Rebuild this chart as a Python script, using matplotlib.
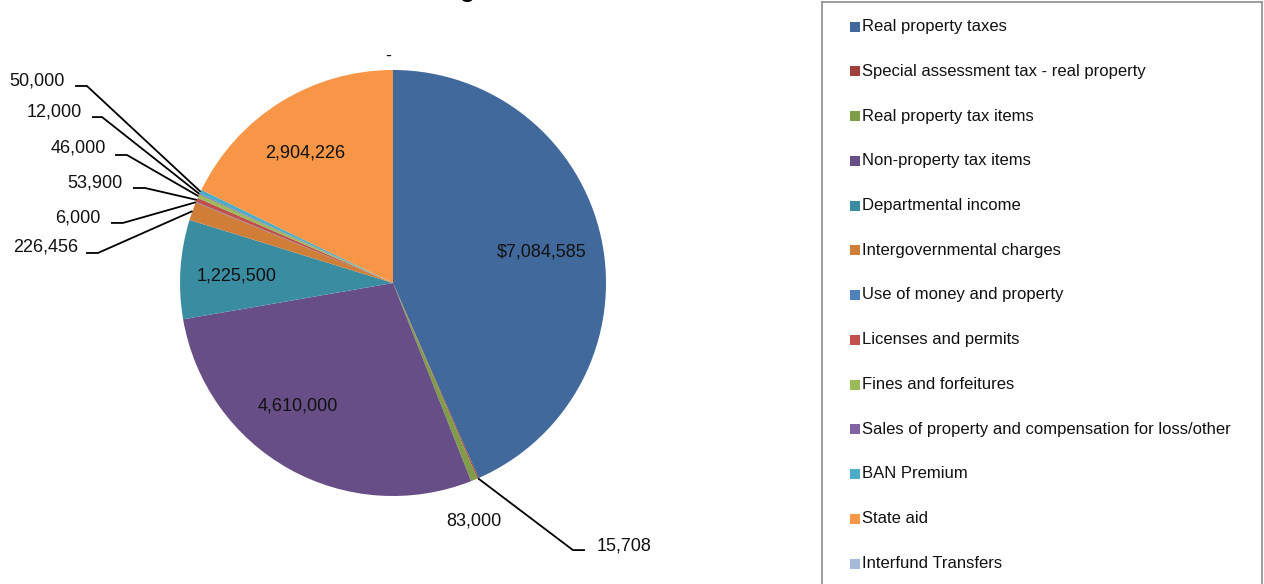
import matplotlib.pyplot as plt
import numpy as np

plt.rcParams['font.family'] = ['Liberation Sans', 'DejaVu Sans']

# Dados
categorias = [
    "Real property taxes",
    "Special assessment tax - real property",
    "Real property tax items",
    "Non-property tax items",
    "Departmental income",
    "Intergovernmental charges",
    "Use of money and property",
    "Licenses and permits",
    "Fines and forfeitures",
    "Sales of property and compensation for loss/other",
    "BAN Premium",
    "State aid",
    "Interfund Transfers",
]
valores = [7084585, 15708, 83000, 4610000, 1225500, 226456, 6000,
           53900, 46000, 12000, 50000, 2904226, 0]
cores = ["#41699C", "#A23F3C", "#7F9C46", "#684E86", "#3A8DA0", "#D07D38",
         "#4F81BD", "#C0504D", "#9BBB59", "#8064A2", "#4BACC6", "#F79646",
         "#A7B9D9"]

# Posicao dos rotulos (unidades do raio)
pos_rotulos = [(0.697, 0.146), (0.958, -1.235), (0.380, -1.117),
               (-0.446, -0.577), (-0.732, 0.033), (-1.479, 0.169),
               (-1.371, 0.305), (-1.268, 0.469), (-1.347, 0.634),
               (-1.460, 0.803), (-1.540, 0.948), (-0.413, 0.610),
               (-0.023, 1.066)]
# Linhas de chamada: indice -> (x ponta, x cotovelo, y)
chamadas = {
    1: (0.901, 0.845, -1.254),
    5: (-1.441, -1.385, 0.141),
    6: (-1.324, -1.268, 0.282),
    7: (-1.221, -1.164, 0.446),
    8: (-1.305, -1.249, 0.601),
    9: (-1.413, -1.366, 0.779),
    10: (-1.493, -1.437, 0.925),
}


def formatar(i, v):
    if v == 0:
        return "-"
    if i == 0:
        return f"${v:,}"
    return f"{v:,}"


W, H = 1264, 584
fig = plt.figure(figsize=(W / 100, H / 100), dpi=100)

# Titulo (quase todo fora da area visivel)
fig.text(399 / W, 587 / H, "Revenue Budget", ha="center", va="baseline",
         fontsize=18, fontweight="bold")

# Grafico de pizza
ax = fig.add_axes([180 / W, 88 / H, 426 / W, 426 / H])
fatias, _ = ax.pie(valores, colors=cores, startangle=90, counterclock=False,
                   radius=1, wedgeprops=dict(linewidth=0))
ax.set_xlim(-1, 1)
ax.set_ylim(-1, 1)
ax.axis("off")

for i, (fatia, v) in enumerate(zip(fatias, valores)):
    tx, ty = pos_rotulos[i]
    texto = formatar(i, v)
    if i in chamadas:
        ponta, cotovelo, ly = chamadas[i]
        meio = np.deg2rad((fatia.theta1 + fatia.theta2) / 2)
        ex, ey = np.cos(meio), np.sin(meio)
        ax.plot([ponta, cotovelo, ex], [ly, ly, ey], color="black", lw=1.3,
                clip_on=False, solid_capstyle="butt")
        ha = "left" if tx > 0 else "right"
        ax.text(tx, ty, texto, ha=ha, va="center", fontsize=13, color="#111111")
    else:
        ax.text(tx, ty, texto, ha="center", va="center", fontsize=13,
                color="#111111")

# Legenda
lax = fig.add_axes([822 / W, 0, 440 / W, 582 / H])
lax.set_xlim(822, 1262)
lax.set_ylim(584, 2)
lax.set_xticks([])
lax.set_yticks([])
for lado in ["left", "right", "top"]:
    lax.spines[lado].set_color("#8C8C8C")
    lax.spines[lado].set_linewidth(1.2)
lax.spines["bottom"].set_visible(False)
for i, (nome, cor) in enumerate(zip(categorias, cores)):
    y = 26.5 + i * 44.75
    lax.scatter([854.5], [y], marker="s", s=42, color=cor, linewidths=0)
    lax.text(862, y, nome, ha="left", va="center", fontsize=12,
             color="#111111")

fig.savefig("out.png", dpi=100)
